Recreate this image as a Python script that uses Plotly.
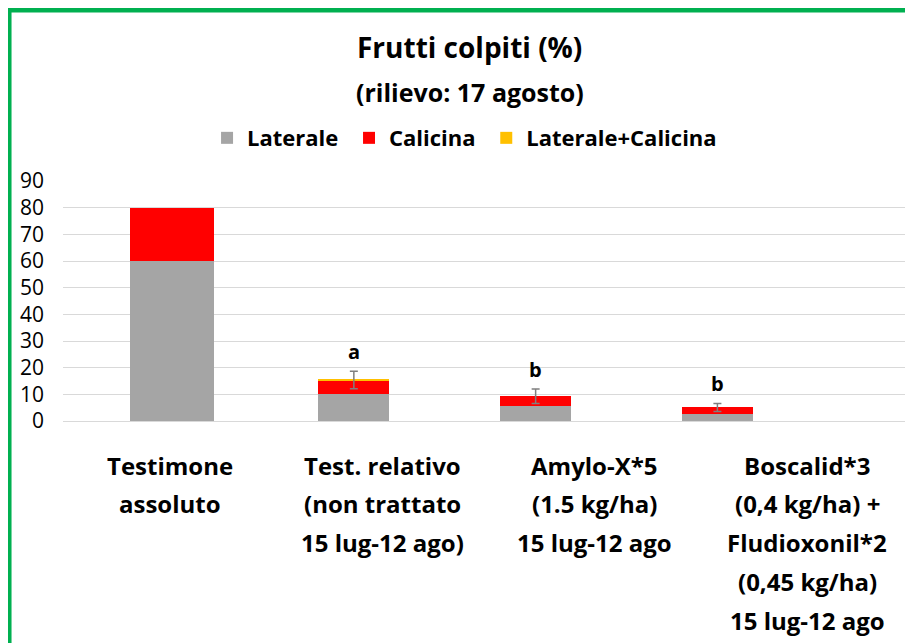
import plotly.graph_objects as go

# ---- data ----
categories = ["Testimone assoluto", "Test. relativo", "Amylo-X*5", "Boscalid*3"]
label_lines = [
    ["Testimone", "assoluto"],
    ["Test. relativo", "(non trattato", "15 lug-12 ago)"],
    ["Amylo-X*5", "(1.5 kg/ha)", "15 lug-12 ago"],
    ["Boscalid*3", "(0,4 kg/ha) +", "Fludioxonil*2", "(0,45 kg/ha)", "15 lug-12 ago"],
]
laterale = [60, 10.2, 5.6, 2.7]
calicina = [20, 4.9, 3.7, 2.4]
lat_cal = [0, 0.3, 0, 0]
errors = [None, 3.3, 2.7, 1.5]
letters = ["", "a", "b", "b"]
bar_widths = [0.46, 0.39, 0.39, 0.39]
y_ticks = [0, 10, 20, 30, 40, 50, 60, 70, 80, 90]

FONT = "Open Sans, sans-serif"
NB = "\u00a0"

fig = go.Figure()
fig.add_trace(go.Bar(x=categories, y=laterale, name="<b>Laterale</b>" + NB, width=bar_widths,
                     marker=dict(color="#a5a5a5", line=dict(width=0))))
fig.add_trace(go.Bar(x=categories, y=calicina, name="<b>Calicina</b>" + NB, width=bar_widths,
                     marker=dict(color="#ff0000", line=dict(width=0))))
fig.add_trace(go.Bar(x=categories, y=lat_cal, name="<b>Laterale+Calicina</b>", width=bar_widths,
                     marker=dict(color="#ffc000", line=dict(width=0))))

totals = [a + b + c for a, b, c in zip(laterale, calicina, lat_cal)]

# error bars only where a value exists
err_x = [c for c, e in zip(categories, errors) if e is not None]
err_y = [t for t, e in zip(totals, errors) if e is not None]
err_v = [e for e in errors if e is not None]
fig.add_trace(go.Scatter(x=err_x, y=err_y, mode="markers", showlegend=False, hoverinfo="skip",
                         marker=dict(opacity=0, size=1),
                         error_y=dict(type="data", array=err_v, color="#7f7f7f",
                                      thickness=1.5, width=4)))

annotations = []
for cat, tot, err, let in zip(categories, totals, errors, letters):
    if let:
        annotations.append(dict(x=cat, y=tot + (err or 0), xref="x", yref="y", text="<b>%s</b>" % let,
                                showarrow=False, xanchor="center", yanchor="bottom", yshift=4,
                                font=dict(family=FONT, size=20, color="black")))

# category labels below the axis (one annotation per line)
for i, lines in enumerate(label_lines):
    for j, line in enumerate(lines):
        annotations.append(dict(x=(i + 0.504) * 0.2476, y=0, xref="paper", yref="paper",
                                text="<b>%s</b>" % line, showarrow=False,
                                xanchor="center", yanchor="middle", yshift=-44 - 38.8 * j,
                                font=dict(family=FONT, size=24, color="black")))

annotations.append(dict(x=0.474, y=1.558, xref="paper", yref="paper",
                        text="<b>Frutti colpiti (%)</b>", showarrow=False,
                        xanchor="center", yanchor="middle",
                        font=dict(family=FONT, size=28, color="black")))
annotations.append(dict(x=0.474, y=1.371, xref="paper", yref="paper",
                        text="<b>(rilievo: 17 agosto)</b>", showarrow=False,
                        xanchor="center", yanchor="middle",
                        font=dict(family=FONT, size=25, color="black")))

fig.update_layout(
    width=913, height=643,
    margin=dict(l=55, r=0, t=173, b=230, pad=0),
    paper_bgcolor="white", plot_bgcolor="white",
    barmode="stack",
    showlegend=True,
    legend=dict(orientation="h", x=0.468, xanchor="center", y=1.179, yanchor="middle",
                font=dict(family=FONT, size=22, color="black"), traceorder="normal",
                itemwidth=30),
    annotations=annotations,
    xaxis=dict(range=[-0.60, 4.12], showticklabels=False, showgrid=False,
               showline=False, zeroline=False, ticks=""),
    yaxis=dict(range=[0, 90], tickvals=y_ticks, showgrid=True, gridcolor="#d9d9d9",
               gridwidth=1, zeroline=True, zerolinecolor="#d9d9d9", zerolinewidth=1,
               showline=False, ticks="", ticklabelstandoff=18,
               tickfont=dict(family=FONT, size=21, color="black")),
    shapes=[dict(type="path", xref="paper", yref="paper",
                 path="M -0.0629,-0.95 L -0.0629,1.7125 L 1.02,1.7125",
                 line=dict(color="#00b050", width=5))],
)

fig.write_html("out.html")
